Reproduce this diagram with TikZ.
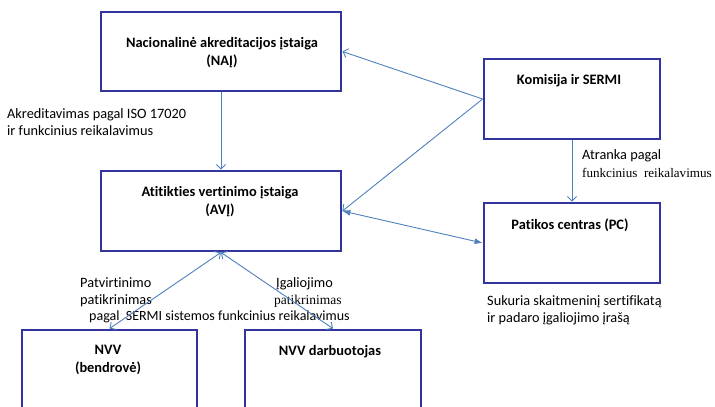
\documentclass[tikz,border=0pt]{standalone}
\usepackage{fontspec}
\setmainfont{Carlito}[Ligatures=NoCommon]
\newfontfamily\tms{Liberation Serif}
\usetikzlibrary{arrows.meta}
\definecolor{boxc}{RGB}{52,52,158}
\definecolor{arrc}{RGB}{79,129,189}
\begin{document}
\begin{tikzpicture}[x=1pt,y=-1pt,
  box/.style={draw=boxc, line width=2.8pt, minimum width=#1, inner sep=0pt},
  txt/.style={font=\fontsize{14.4}{18}\selectfont, align=center, inner sep=0pt},
  ltxt/.style={font=\fontsize{14.3}{17}\selectfont, align=left, inner sep=0pt, anchor=west},
  arr/.style={draw=arrc, line width=0.9pt, -{Straight Barb[length=4.5pt,width=9pt]}},
  darr/.style={draw=arrc, line width=0.9pt, {Straight Barb[length=4.5pt,width=9pt]}-{Straight Barb[length=4.5pt,width=9pt]}},
  farr/.style={draw=arrc, line width=0.9pt, {Latex[length=8pt,width=6pt]}-{Latex[length=8pt,width=6pt]}}]
\clip (0,0) rectangle (715,407);
\fill[white] (0,0) rectangle (715,407);
% boxes
\node[box=240pt, minimum height=79pt] (naj) at (221,51.5) {};
\node[box=176pt, minimum height=80pt] (kom) at (572,99) {};
\node[box=240pt, minimum height=80pt] (avj) at (221,211) {};
\node[box=176pt, minimum height=80pt] (pc) at (572,243) {};
\node[box=175pt, minimum height=100pt] (nvv) at (109.5,380) {};
\node[box=176pt, minimum height=100pt] (darb) at (333,380) {};
% box texts
\node[txt] (tnaj) at (222,53) {\bfseries Nacionalinė akreditacijos įstaiga\\\bfseries (NAĮ)};
\node[txt] (tkom) at (569,81) {\bfseries Komisija ir SERMI};
\node[txt] (tavj) at (220,202) {\bfseries Atitikties vertinimo įstaiga\\\bfseries (AVĮ)};
\node[txt] (tpc) at (570,225) {\bfseries Patikos centras (PC)};
\node[txt] (tnvv) at (108,360) {\bfseries NVV\\\bfseries (bendrovė)};
\node[txt] (tdarb) at (330,352) {\bfseries NVV darbuotojas};
% free labels
\node[ltxt] (lakr) at (7,122) {Akreditavimas pagal ISO 17020\\ir funkcinius reikalavimus};
\node[ltxt] (latr) at (582,156) {Atranka pagal};
\node[ltxt, font=\tms\fontsize{13.1}{17}\selectfont] (lfun) at (582,173) {funkcinius\ \ reikalavimus};
\node[ltxt] (lsuk) at (487,310) {Sukuria skaitmeninį sertifikatą\\ir padaro įgaliojimo įrašą};
\node[ltxt] (lpat) at (80,292) {Patvirtinimo\\patikrinimas};
\node[ltxt, font=\fontsize{14}{17}\selectfont] (lpag) at (89,317) {pagal\ \ SERMI sistemos funkcinius reikalavimus};
\node[ltxt] (lig) at (276,284) {Įgaliojimo};
\node[ltxt, font=\tms\fontsize{13.5}{17}\selectfont] (lpat2) at (274,301) {patikrinimas};
% connectors
\draw[arr] (naj.south) -- (avj.north);
\draw[arr] (kom.west) -- (naj.east);
\draw[arr] (kom.west) -- (avj.east);
\draw[arr] (kom.south) -- (pc.north);
\draw[farr] (avj.east) -- (pc.west);
\draw[darr] (avj.south) -- (nvv.north);
\draw[darr] (avj.south) -- (darb.north);
\end{tikzpicture}
\end{document}
